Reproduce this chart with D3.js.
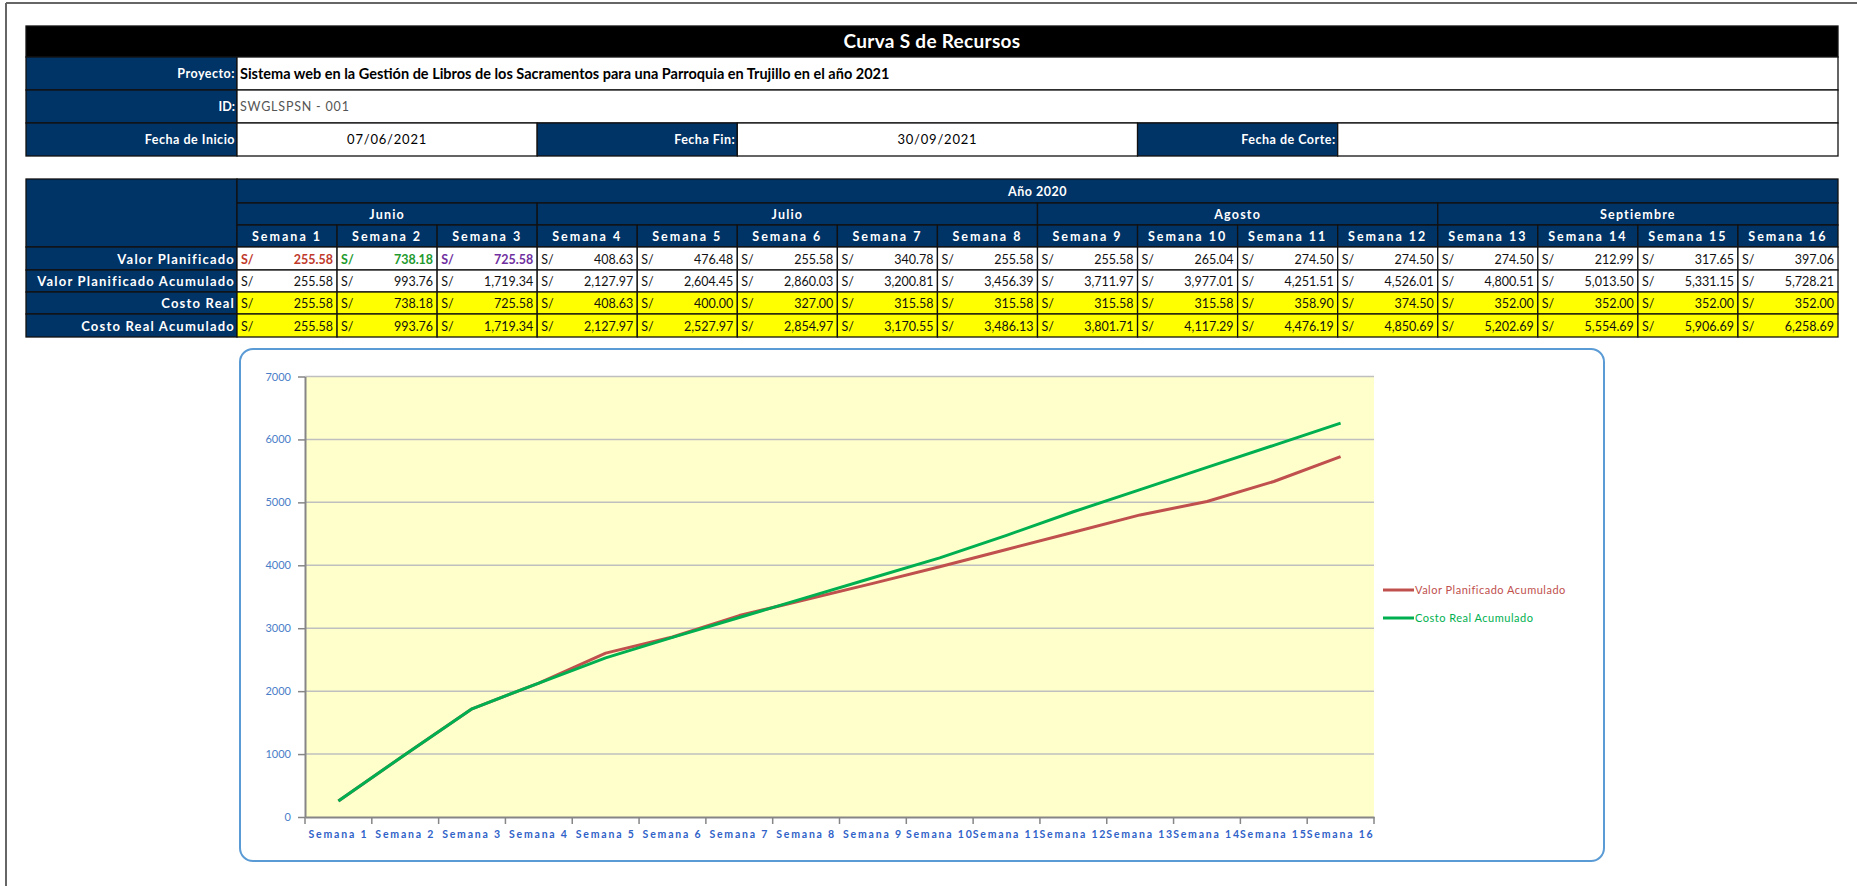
<!DOCTYPE html>
<html>
<head>
<meta charset="utf-8">
<script src="https://d3js.org/d3.v7.min.js"></script>
<style>
body { margin: 0; background: #fff; }
text { font-family: Lato, "Open Sans", sans-serif; }
</style>
</head>
<body>
<div id="my_dataviz"></div>
<script>
// data
var weeks = ["Semana 1", "Semana 2", "Semana 3", "Semana 4", "Semana 5", "Semana 6", "Semana 7", "Semana 8",
    "Semana 9", "Semana 10", "Semana 11", "Semana 12", "Semana 13", "Semana 14", "Semana 15", "Semana 16"]
var months = ["Junio", "Julio", "Agosto", "Septiembre"]
var weeksPerMonth = [3, 5, 4, 4]
var valorPlanificado = [255.58, 738.18, 725.58, 408.63, 476.48, 255.58, 340.78, 255.58,
    255.58, 265.04, 274.50, 274.50, 274.50, 212.99, 317.65, 397.06]
var valorPlanificadoAcum = [255.58, 993.76, 1719.34, 2127.97, 2604.45, 2860.03, 3200.81, 3456.39,
    3711.97, 3977.01, 4251.51, 4526.01, 4800.51, 5013.50, 5331.15, 5728.21]
var costoReal = [255.58, 738.18, 725.58, 408.63, 400.00, 327.00, 315.58, 315.58,
    315.58, 315.58, 358.90, 374.50, 352.00, 352.00, 352.00, 352.00]
var costoRealAcum = [255.58, 993.76, 1719.34, 2127.97, 2527.97, 2854.97, 3170.55, 3486.13,
    3801.71, 4117.29, 4476.19, 4850.69, 5202.69, 5554.69, 5906.69, 6258.69]
var rowLabels = ["Valor Planificado", "Valor Planificado Acumulado", "Costo Real", "Costo Real Acumulado"]
var yTicks = [0, 1000, 2000, 3000, 4000, 5000, 6000, 7000]
var seriesNames = ["Valor Planificado Acumulado", "Costo Real Acumulado"]

var width = 1857
var height = 886
var navy = "#003366"

var svg = d3.select("#my_dataviz")
    .append("svg")
    .attr("width", width)
    .attr("height", height)

// page frame (left + top only)
svg.append("line").attr("x1", 6).attr("y1", 3).attr("x2", 6).attr("y2", height)
    .attr("stroke", "#666").attr("stroke-width", 2)
svg.append("line").attr("x1", 6).attr("y1", 3).attr("x2", width).attr("y2", 3)
    .attr("stroke", "#666").attr("stroke-width", 2)

// table columns
var tableLeft = 26, labelRight = 237, tableRight = 1838
var col = d3.scaleBand().domain(weeks).range([labelRight, tableRight])
var bw = col.bandwidth()

function cell(x, y, w, h, fill) {
    return svg.append("rect")
        .attr("x", x).attr("y", y).attr("width", w).attr("height", h)
        .attr("fill", fill)
        .attr("stroke", "#111")
        .attr("stroke-width", 1.3)
}

function txt(x, y, s, o) {
    o = o || {}
    return svg.append("text")
        .attr("x", x).attr("y", y)
        .attr("text-anchor", o.anchor || "start")
        .attr("fill", o.color || "#000")
        .style("font-size", (o.size || 13) + "px")
        .style("font-weight", o.bold ? "bold" : "normal")
        .style("letter-spacing", (o.ls || 0) + "px")
        .text(s)
}

// ---- info block ----
cell(tableLeft, 26, tableRight - tableLeft, 31, "#000")
txt((tableLeft + tableRight) / 2, 48, "Curva S de Recursos", {anchor: "middle", color: "#fff", size: 19, bold: true, ls: 0.3})

cell(tableLeft, 57, labelRight - tableLeft, 33, navy)
cell(labelRight, 57, tableRight - labelRight, 33, "#fff")
txt(labelRight - 2, 78, "Proyecto:", {anchor: "end", color: "#fff", size: 12.5, bold: true, ls: 0.5})
txt(labelRight + 3, 79, "Sistema web en la Gestión de Libros de los Sacramentos para una Parroquia en Trujillo en el año 2021", {size: 14.5, bold: true})

cell(tableLeft, 90, labelRight - tableLeft, 33, navy)
cell(labelRight, 90, tableRight - labelRight, 33, "#fff")
txt(labelRight - 2, 111, "ID:", {anchor: "end", color: "#fff", size: 12.5, bold: true})
txt(labelRight + 3, 111, "SWGLSPSN - 001", {size: 12.5, color: "#555", ls: 0.8})

var fy = 123, fh = 33
cell(tableLeft, fy, labelRight - tableLeft, fh, navy)
txt(labelRight - 2, fy + 21, "Fecha de Inicio", {anchor: "end", color: "#fff", size: 12.5, bold: true, ls: 0.5})
cell(col(weeks[0]), fy, col(weeks[3]) - col(weeks[0]), fh, "#fff")
txt((col(weeks[0]) + col(weeks[3])) / 2, fy + 21, "07/06/2021", {anchor: "middle", size: 13, ls: 0.8})
cell(col(weeks[3]), fy, col(weeks[5]) - col(weeks[3]), fh, navy)
txt(col(weeks[5]) - 2, fy + 21, "Fecha Fin:", {anchor: "end", color: "#fff", size: 12.5, bold: true, ls: 0.5})
cell(col(weeks[5]), fy, col(weeks[9]) - col(weeks[5]), fh, "#fff")
txt((col(weeks[5]) + col(weeks[9])) / 2, fy + 21, "30/09/2021", {anchor: "middle", size: 13, ls: 0.8})
cell(col(weeks[9]), fy, col(weeks[11]) - col(weeks[9]), fh, navy)
txt(col(weeks[11]) - 2, fy + 21, "Fecha de Corte:", {anchor: "end", color: "#fff", size: 12.5, bold: true, ls: 0.5})
cell(col(weeks[11]), fy, tableRight - col(weeks[11]), fh, "#fff")

// ---- weekly table ----
var rowTop = [179, 203, 225, 247, 270, 292, 314, 337]
cell(tableLeft, rowTop[0], labelRight - tableLeft, rowTop[3] - rowTop[0], navy)
cell(labelRight, rowTop[0], tableRight - labelRight, rowTop[1] - rowTop[0], navy)
txt((labelRight + tableRight) / 2, rowTop[0] + 17, "Año 2020", {anchor: "middle", color: "#fff", size: 12.5, bold: true, ls: 0.5})

var start = 0
months.forEach(function(m, i) {
    var x0 = col(weeks[start])
    var w = bw * weeksPerMonth[i]
    cell(x0, rowTop[1], w, rowTop[2] - rowTop[1], navy)
    txt(x0 + w / 2, rowTop[1] + 16, m, {anchor: "middle", color: "#fff", size: 12.5, bold: true, ls: 1.2})
    start += weeksPerMonth[i]
})

weeks.forEach(function(w) {
    cell(col(w), rowTop[2], bw, rowTop[3] - rowTop[2], navy)
    txt(col(w) + bw / 2, rowTop[2] + 16, w, {anchor: "middle", color: "#fff", size: 12.5, bold: true, ls: 2})
})

var tableRows = [valorPlanificado, valorPlanificadoAcum, costoReal, costoRealAcum]
var firstColors = ["#C0392B", "#1E9A2E", "#7030A0"]
var fmt = d3.format(",.2f")

tableRows.forEach(function(values, r) {
    var y0 = rowTop[r + 3], h = rowTop[r + 4] - y0
    var fill = r >= 2 ? "#FFFF00" : "#fff"
    cell(tableLeft, y0, labelRight - tableLeft, h, navy)
    txt(labelRight - 2, y0 + h / 2 + 5, rowLabels[r], {anchor: "end", color: "#fff", size: 13, bold: true, ls: 1.2})
    values.forEach(function(v, i) {
        var x0 = col(weeks[i])
        var colored = r === 0 && i < 3
        var c = colored ? firstColors[i] : "#111"
        cell(x0, y0, bw, h, fill)
        txt(x0 + 4, y0 + h / 2 + 5, "S/", {size: 12.5, color: c, bold: colored})
        txt(x0 + bw - 4, y0 + h / 2 + 5, fmt(v), {anchor: "end", size: 12.5, color: c, bold: colored})
    })
})

// ---- chart ----
svg.append("rect")
    .attr("x", 240).attr("y", 349).attr("width", 1364).attr("height", 512)
    .attr("rx", 13)
    .attr("fill", "#fff")
    .attr("stroke", "#5B9BD5")
    .attr("stroke-width", 2)

var plotLeft = 305, plotRight = 1374, plotTop = 376.5, plotBottom = 817
var x = d3.scaleBand().domain(weeks).range([plotLeft, plotRight])
var y = d3.scaleLinear().domain([0, 7000]).range([plotBottom, plotTop])

svg.append("rect")
    .attr("x", plotLeft).attr("y", plotTop)
    .attr("width", plotRight - plotLeft).attr("height", plotBottom - plotTop)
    .attr("fill", "#FFFFCC")

svg.append("g")
    .selectAll("line")
    .data(yTicks.slice(1))
    .enter()
    .append("line")
    .attr("x1", plotLeft).attr("x2", plotRight)
    .attr("y1", function(d) { return y(d) }).attr("y2", function(d) { return y(d) })
    .attr("stroke", "#BFBFBF")
    .attr("stroke-width", 1.5)

var yAxis = svg.append("g")
    .attr("transform", "translate(" + plotLeft + ",0)")
    .call(d3.axisLeft(y).tickValues(yTicks).tickSize(7).tickSizeOuter(0).tickPadding(7).tickFormat(d3.format("d")))
yAxis.select(".domain").attr("stroke", "#868686").attr("stroke-width", 2)
yAxis.selectAll(".tick line").attr("stroke", "#868686").attr("stroke-width", 1.5)
yAxis.selectAll("text").attr("fill", "#4A7EC8").style("font-size", "11px").style("font-family", "Lato, sans-serif")

var xAxis = svg.append("g")
    .attr("transform", "translate(0," + plotBottom + ")")
    .call(d3.axisBottom(x).tickSize(0).tickSizeOuter(0).tickPadding(14))
xAxis.select(".domain").attr("stroke", "#868686").attr("stroke-width", 2)
xAxis.selectAll("text")
    .attr("fill", "#2F62C8")
    .style("font-size", "10.5px")
    .style("font-weight", "bold")
    .style("letter-spacing", "1.8px")
    .style("font-family", "Lato, sans-serif")

// tick marks between categories
svg.append("g")
    .selectAll("line")
    .data(weeks.map(function(w) { return x(w) }).concat([plotRight]))
    .enter()
    .append("line")
    .attr("x1", function(d) { return d }).attr("x2", function(d) { return d })
    .attr("y1", plotBottom).attr("y2", plotBottom + 7)
    .attr("stroke", "#868686")
    .attr("stroke-width", 1.5)

var line = d3.line()
    .x(function(d, i) { return x(weeks[i]) + x.bandwidth() / 2 })
    .y(function(d) { return y(d) })

var lineColors = ["#C0504D", "#00B050"]
var legendY = [590, 618]

;[valorPlanificadoAcum, costoRealAcum].forEach(function(s, i) {
    svg.append("path")
        .datum(s)
        .attr("d", line)
        .attr("fill", "none")
        .attr("stroke", lineColors[i])
        .attr("stroke-width", 3)
        .attr("stroke-linejoin", "round")

    svg.append("line")
        .attr("x1", 1383).attr("x2", 1414)
        .attr("y1", legendY[i]).attr("y2", legendY[i])
        .attr("stroke", lineColors[i])
        .attr("stroke-width", 3)
    txt(1415, legendY[i] + 4, seriesNames[i], {size: 11, color: lineColors[i], ls: 0.5})
})
</script>
</body>
</html>
